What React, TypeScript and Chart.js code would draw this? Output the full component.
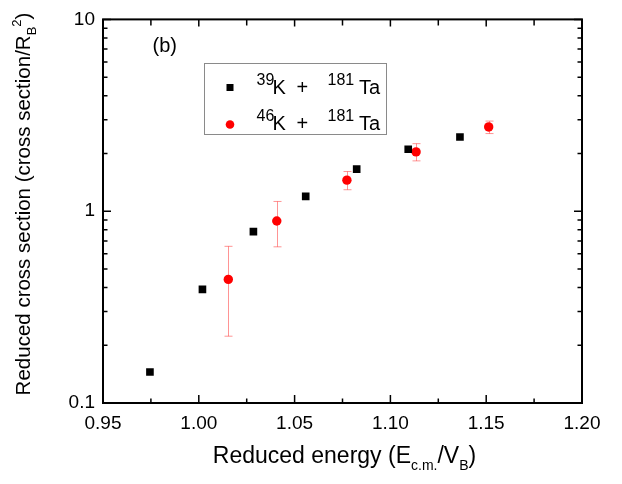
import { useEffect, useRef } from 'react';
import { Chart, registerables } from 'chart.js';

Chart.register(...registerables);

// ---- data ----
const k39Energy = [0.9745, 1.0019, 1.0285, 1.0558, 1.0824, 1.1093, 1.1363];
const k39Sigma = [0.145, 0.391, 0.782, 1.194, 1.656, 2.104, 2.438];
const k46Energy = [1.0154, 1.0407, 1.0773, 1.1134, 1.1513];
const k46Sigma = [0.441, 0.889, 1.452, 2.038, 2.75];
const k46ErrLow = [0.223, 0.652, 1.294, 1.83, 2.54];
const k46ErrHigh = [0.656, 1.124, 1.61, 2.25, 2.95];
const xTickValues = [0.95, 1.0, 1.05, 1.1, 1.15, 1.2];
const xTickLabels = ['0.95', '1.00', '1.05', '1.10', '1.15', '1.20'];
const yTickValues = [0.1, 1, 10];
const yTickLabels = ['0.1', '1', '10'];

const FONT = '"Liberation Sans", Arial, Helvetica, sans-serif';

type Seg = { t: string; size: number; dy: number };

function drawSegs(ctx: CanvasRenderingContext2D, segs: Seg[], x0: number, y0: number, center: boolean) {
  let w = 0;
  for (const s of segs) {
    ctx.font = `${s.size}px ${FONT}`;
    w += ctx.measureText(s.t).width;
  }
  let x = center ? x0 - w / 2 : x0;
  for (const s of segs) {
    ctx.font = `${s.size}px ${FONT}`;
    ctx.fillText(s.t, x, y0 + s.dy);
    x += ctx.measureText(s.t).width;
  }
}

const decorPlugin = {
  id: 'decor',
  beforeDatasetsDraw(chart: any) {
    const ctx = chart.ctx as CanvasRenderingContext2D;
    const xs = chart.scales.x;
    const ys = chart.scales.y;
    ctx.save();
    ctx.strokeStyle = 'rgba(255,60,60,0.55)';
    ctx.lineWidth = 1;
    for (let i = 0; i < k46Energy.length; i++) {
      const px = Math.round(xs.getPixelForValue(k46Energy[i])) + 0.5;
      const pLo = ys.getPixelForValue(k46ErrLow[i]);
      const pHi = ys.getPixelForValue(k46ErrHigh[i]);
      ctx.beginPath();
      ctx.moveTo(px, pLo);
      ctx.lineTo(px, pHi);
      ctx.moveTo(px - 4, pLo);
      ctx.lineTo(px + 4, pLo);
      ctx.moveTo(px - 4, pHi);
      ctx.lineTo(px + 4, pHi);
      ctx.stroke();
    }
    ctx.restore();
  },
  afterDraw(chart: any) {
    const ctx = chart.ctx as CanvasRenderingContext2D;
    const a = chart.chartArea;
    const xs = chart.scales.x;
    const ys = chart.scales.y;
    ctx.save();
    // frame
    ctx.strokeStyle = '#000';
    ctx.lineWidth = 2;
    ctx.strokeRect(a.left, a.top, a.right - a.left, a.bottom - a.top);
    // x ticks
    ctx.lineWidth = 1.5;
    ctx.beginPath();
    for (let i = 0; i < xTickValues.length; i++) {
      const px = xs.getPixelForValue(xTickValues[i]);
      ctx.moveTo(px, a.bottom);
      ctx.lineTo(px, a.bottom - 8);
      ctx.moveTo(px, a.top);
      ctx.lineTo(px, a.top + 7);
      if (i < xTickValues.length - 1) {
        const mx = xs.getPixelForValue((xTickValues[i] + xTickValues[i + 1]) / 2);
        ctx.moveTo(mx, a.bottom);
        ctx.lineTo(mx, a.bottom - 4.5);
        ctx.moveTo(mx, a.top);
        ctx.lineTo(mx, a.top + 6);
      }
    }
    // y ticks
    for (let i = 0; i < yTickValues.length; i++) {
      const py = ys.getPixelForValue(yTickValues[i]);
      ctx.moveTo(a.left, py);
      ctx.lineTo(a.left + 8, py);
      ctx.moveTo(a.right, py);
      ctx.lineTo(a.right - 8, py);
      if (i < yTickValues.length - 1) {
        for (let m = 2; m <= 9; m++) {
          const my = ys.getPixelForValue(yTickValues[i] * m);
          ctx.moveTo(a.left, my);
          ctx.lineTo(a.left + 4.5, my);
          ctx.moveTo(a.right, my);
          ctx.lineTo(a.right - 4.5, my);
        }
      }
    }
    ctx.stroke();

    ctx.fillStyle = '#000';
    ctx.textAlign = 'left';
    ctx.textBaseline = 'alphabetic';
    // panel label
    ctx.font = `20px ${FONT}`;
    ctx.fillText('(b)', 152.5, 51.5);

    // x title
    drawSegs(
      ctx,
      [
        { t: 'Reduced energy (E', size: 23, dy: 0 },
        { t: 'c.m.', size: 14, dy: 7 },
        { t: '/V', size: 23, dy: 0 },
        { t: 'B', size: 14, dy: 7 },
        { t: ')', size: 23, dy: 0 },
      ],
      (a.left + a.right) / 2 + 2,
      462.5,
      true
    );

    // y title
    ctx.save();
    ctx.translate(29.5, 204);
    ctx.rotate(-Math.PI / 2);
    drawSegs(
      ctx,
      [
        { t: 'Reduced cross section (cross section/R', size: 20.5, dy: 0 },
        { t: 'B', size: 13, dy: 6 },
        { t: '2', size: 13, dy: -9 },
        { t: ')', size: 20.5, dy: 0 },
      ],
      0,
      0,
      true
    );
    ctx.restore();

    // legend box
    ctx.strokeStyle = '#8a8a8a';
    ctx.lineWidth = 1;
    ctx.strokeRect(204.5, 63.5, 182, 71);
    // markers
    ctx.fillStyle = '#000';
    ctx.fillRect(226.5, 84, 7, 7);
    ctx.fillStyle = '#ff0000';
    ctx.beginPath();
    ctx.arc(230, 124.5, 4.3, 0, Math.PI * 2);
    ctx.fill();
    ctx.fillStyle = '#000';
    const rows = [
      { a: '39', base: 93.5 },
      { a: '46', base: 129.5 },
    ];
    for (const r of rows) {
      ctx.font = `16px ${FONT}`;
      ctx.fillText(r.a, 256.5, r.base - 9);
      ctx.font = `20px ${FONT}`;
      ctx.fillText('K', 272.5, r.base);
      ctx.fillText('+', 296.5, r.base);
      ctx.font = `16px ${FONT}`;
      ctx.fillText('181', 327.5, r.base - 9);
      ctx.font = `20px ${FONT}`;
      ctx.fillText('Ta', 359, r.base);
    }
    ctx.restore();
  },
};

export default function App() {
  const ref = useRef<HTMLCanvasElement | null>(null);
  useEffect(() => {
    if (!ref.current) return;
    const chart = new Chart(ref.current, {
      type: 'scatter',
      data: {
        datasets: [
          {
            label: '39K + 181Ta',
            data: k39Energy.map((x, i) => ({ x, y: k39Sigma[i] })),
            pointStyle: 'rect',
            pointRadius: 5.4,
            pointHoverRadius: 5.4,
            backgroundColor: '#000',
            borderWidth: 0,
          },
          {
            label: '46K + 181Ta',
            data: k46Energy.map((x, i) => ({ x, y: k46Sigma[i] })),
            pointStyle: 'circle',
            pointRadius: 4.7,
            pointHoverRadius: 4.7,
            backgroundColor: '#ff0000',
            borderWidth: 0,
          },
        ],
      },
      options: {
        responsive: false,
        animation: false,
        layout: { padding: { left: 0, top: 18, right: 40, bottom: 0 } },
        plugins: { legend: { display: false }, tooltip: { enabled: false } },
        scales: {
          x: {
            type: 'linear',
            min: 0.95,
            max: 1.2,
            grid: { display: false, drawTicks: false },
            border: { display: false },
            afterBuildTicks: (s: any) => {
              s.ticks = xTickValues.map((v) => ({ value: v }));
            },
            afterFit: (s: any) => {
              s.height = 81;
            },
            ticks: {
              autoSkip: false,
              maxRotation: 0,
              padding: 9,
              color: '#000',
              font: { family: FONT, size: 19 },
              callback: (_v: any, i: number) => xTickLabels[i],
            },
          },
          y: {
            type: 'logarithmic',
            min: 0.1,
            max: 10,
            grid: { display: false, drawTicks: false },
            border: { display: false },
            afterBuildTicks: (s: any) => {
              s.ticks = yTickValues.map((v) => ({ value: v }));
            },
            afterFit: (s: any) => {
              s.width = 103;
            },
            ticks: {
              autoSkip: false,
              padding: 8,
              color: '#000',
              font: { family: FONT, size: 19 },
              callback: (_v: any, i: number) => yTickLabels[i],
            },
          },
        },
      },
      plugins: [decorPlugin],
    });
    return () => chart.destroy();
  }, []);
  return (
    <div style={{ position: 'fixed', left: 0, top: 0, width: 622, height: 484, background: '#fff' }}>
      <canvas ref={ref} width={622} height={484} style={{ width: 622, height: 484 }} />
    </div>
  );
}
